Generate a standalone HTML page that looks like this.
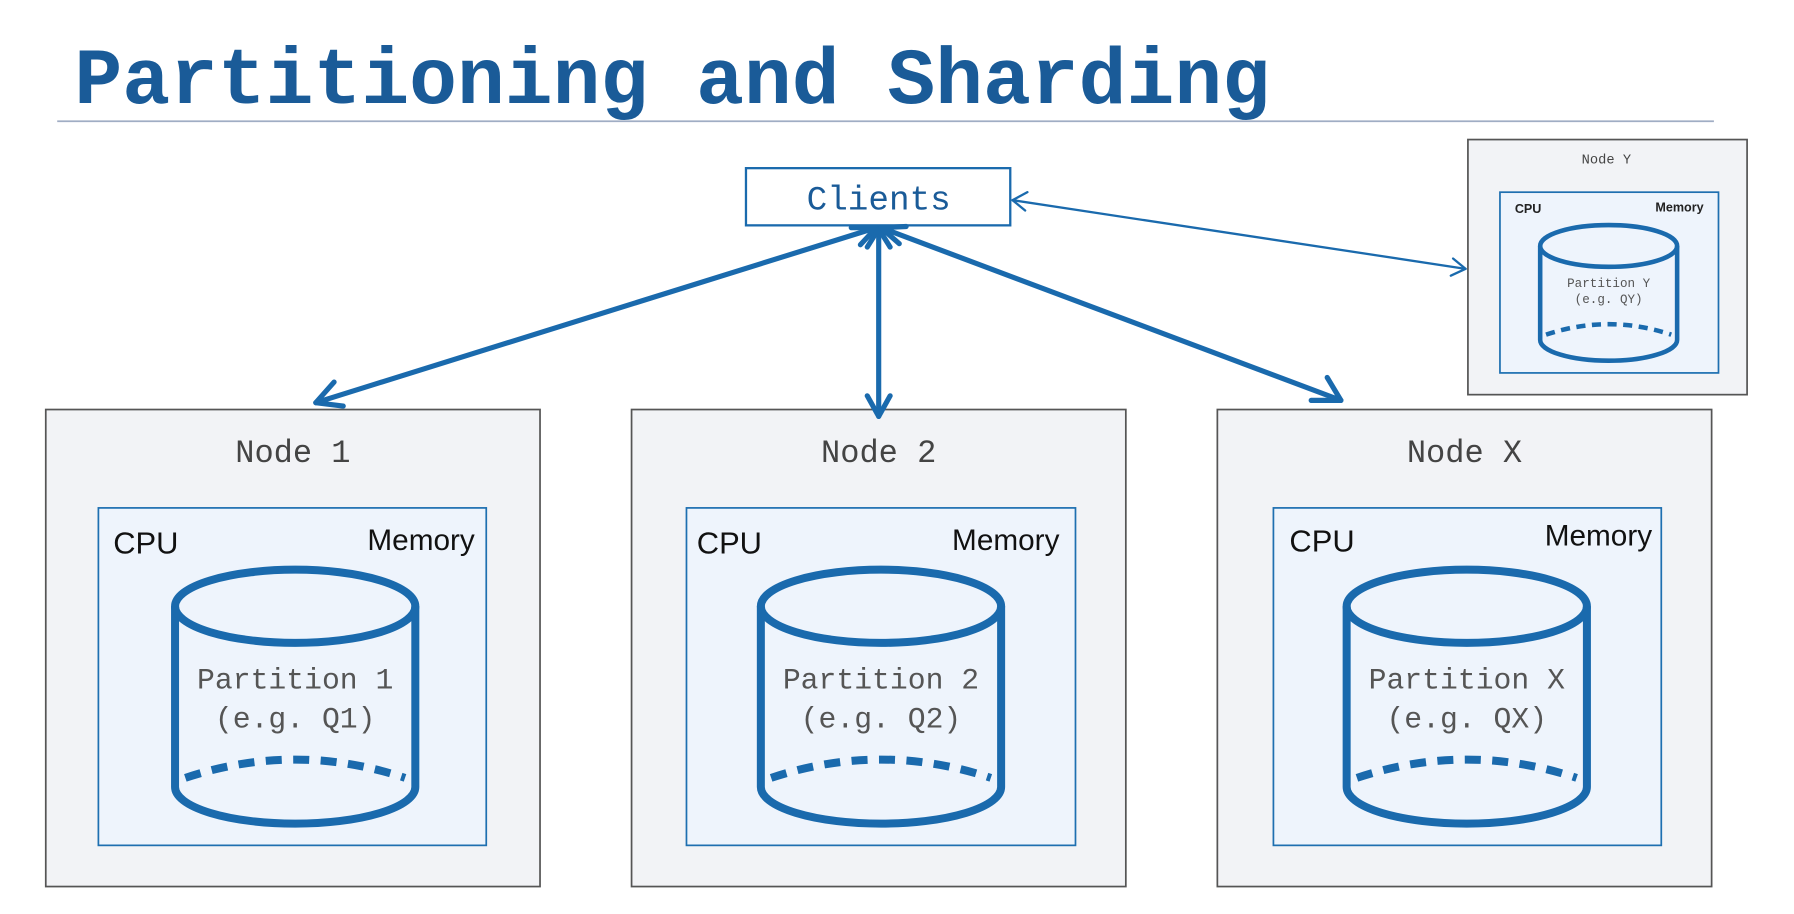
<!DOCTYPE html>
<html><head><meta charset="utf-8"><style>
html,body{margin:0;padding:0;background:#fff;}
svg{display:block;}
</style></head><body>
<svg width="1794" height="914" viewBox="0 0 1568 799" preserveAspectRatio="none" xmlns="http://www.w3.org/2000/svg">
<defs>
<g id="cyl">
  <path d="M-105,0 L-105,158 A105,32 0 0 0 105,158 L105,0" fill="none" stroke="#1a6aad" stroke-width="7"/>
  <ellipse cx="0" cy="0" rx="105" ry="32" fill="none" stroke="#1a6aad" stroke-width="7"/>
  <path d="M-96,150 Q0,118 96,150" fill="none" stroke="#1a6aad" stroke-width="7" stroke-dasharray="14,10"/>
</g>
</defs>
<rect width="1568" height="799" fill="#fff"/>
<text x="65" y="90" font-family="Liberation Mono, monospace" font-weight="bold" font-size="70" fill="#1a5b98" textLength="1045" lengthAdjust="spacingAndGlyphs">Partitioning and Sharding</text>
<line x1="50" y1="106" x2="1498" y2="106" stroke="#a0adc4" stroke-width="1.5"/>

<g font-family="Liberation Mono, monospace" text-anchor="middle">
<rect x="40" y="358" width="432" height="417" fill="#f2f3f6" stroke="#555" stroke-width="1.5"/>
<rect x="552" y="358" width="432" height="417" fill="#f2f3f6" stroke="#555" stroke-width="1.5"/>
<rect x="1064" y="358" width="432" height="417" fill="#f2f3f6" stroke="#555" stroke-width="1.5"/>
<text x="256" y="404" font-size="28" fill="#444">Node 1</text>
<text x="768" y="404" font-size="28" fill="#444">Node 2</text>
<text x="1280" y="404" font-size="28" fill="#444">Node X</text>
<rect x="86" y="444" width="339" height="295" fill="#eef4fc" stroke="#1e6fb0" stroke-width="1.5"/>
<rect x="600" y="444" width="340" height="295" fill="#eef4fc" stroke="#1e6fb0" stroke-width="1.5"/>
<rect x="1113" y="444" width="339" height="295" fill="#eef4fc" stroke="#1e6fb0" stroke-width="1.5"/>
</g>
<g font-family="Liberation Sans, sans-serif" font-size="27" fill="#111">
<text x="99" y="484">CPU</text>
<text x="415" y="481" text-anchor="end" font-size="26">Memory</text>
<text x="609" y="484">CPU</text>
<text x="926" y="481" text-anchor="end" font-size="26">Memory</text>
<text x="1127" y="482">CPU</text>
<text x="1444" y="477" text-anchor="end" font-size="26">Memory</text>
</g>
<use href="#cyl" x="258" y="530"/>
<use href="#cyl" x="770" y="530"/>
<use href="#cyl" x="1282" y="530"/>
<g font-family="Liberation Mono, monospace" font-size="26" fill="#555" text-anchor="middle">
<text x="258" y="602">Partition 1</text><text x="258" y="636">(e.g. Q1)</text>
<text x="770" y="602">Partition 2</text><text x="770" y="636">(e.g. Q2)</text>
<text x="1282" y="602">Partition X</text><text x="1282" y="636">(e.g. QX)</text>
</g>

<rect x="1283" y="122" width="244" height="223" fill="#f2f3f6" stroke="#555" stroke-width="1.5"/>
<text x="1404" y="143" font-family="Liberation Mono, monospace" font-size="12" fill="#444" text-anchor="middle">Node Y</text>
<rect x="1311" y="168" width="191" height="158" fill="#eef4fc" stroke="#1e6fb0" stroke-width="1.5"/>
<text x="1324" y="186" font-family="Liberation Sans, sans-serif" font-size="11" font-weight="bold" fill="#222">CPU</text>
<text x="1489" y="185" font-family="Liberation Sans, sans-serif" font-size="11" font-weight="bold" fill="#222" text-anchor="end">Memory</text>
<g transform="translate(1406,215) scale(0.57,0.57)">
  <path d="M-105,0 L-105,144 A105,32 0 0 0 105,144 L105,0" fill="none" stroke="#1a6aad" stroke-width="7"/>
  <ellipse cx="0" cy="0" rx="105" ry="32" fill="none" stroke="#1a6aad" stroke-width="7"/>
  <path d="M-96,136 Q0,104 96,136" fill="none" stroke="#1a6aad" stroke-width="7" stroke-dasharray="14,10"/>
</g>
<g font-family="Liberation Mono, monospace" font-size="11" fill="#555" text-anchor="middle">
<text x="1406" y="251">Partition Y</text><text x="1406" y="265">(e.g. QY)</text>
</g>

<rect x="652" y="147" width="231" height="50" fill="#fff" stroke="#1a6aad" stroke-width="2"/>
<text x="768" y="183" font-family="Liberation Mono, monospace" font-size="30" fill="#1a5b98" text-anchor="middle">Clients</text>

<g stroke="#1a6aad" fill="none" stroke-linecap="round" stroke-linejoin="round">
<g stroke-width="4.5">
<line x1="766" y1="199" x2="276" y2="352"/>
<polyline points="292,334 276,352 300,355"/>
<polyline points="744,199 766,199 752,214"/>
<line x1="768" y1="200" x2="768" y2="364"/>
<polyline points="758,346 768,364 778,346"/>
<polyline points="758,216 768,200 778,216"/>
<line x1="770" y1="199" x2="1172" y2="350"/>
<polyline points="1146,350 1172,350 1160,330"/>
<polyline points="786,213 770,199 792,198"/>
</g>
<g stroke-width="2">
<line x1="885" y1="175" x2="1281" y2="235"/>
<polyline points="898,168 885,175 896,184"/>
<polyline points="1270,226 1281,235 1268,241"/>
</g>
</g>
</svg>
</body></html>
